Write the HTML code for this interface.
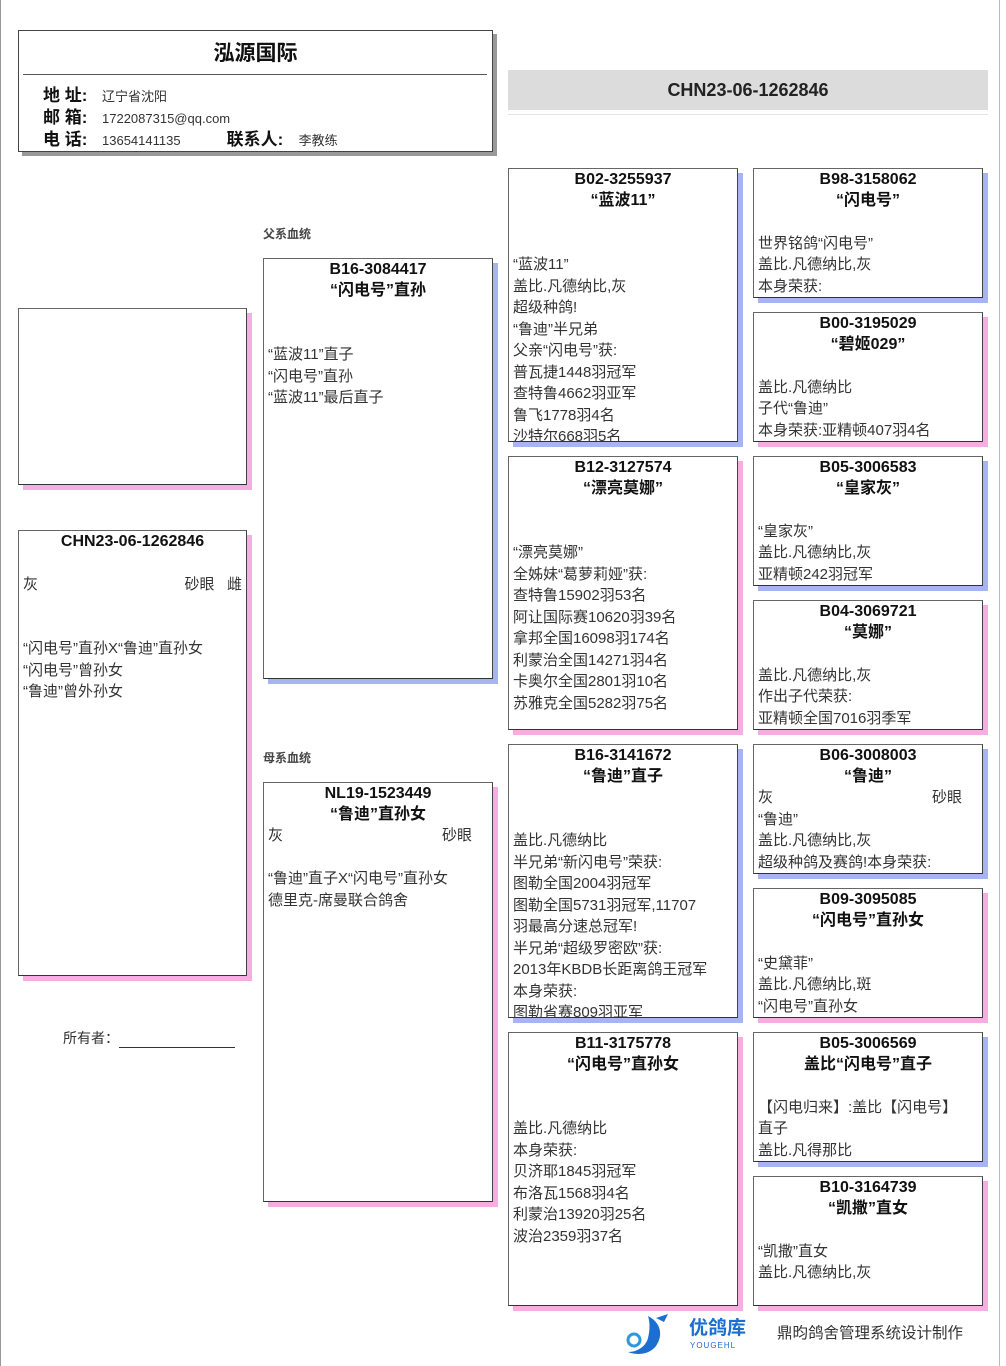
<!DOCTYPE html>
<html><head><meta charset="utf-8"><style>
*{margin:0;padding:0;box-sizing:border-box}
body{width:1006px;height:1366px;background:#fff;position:relative;overflow:hidden;font-family:"Liberation Sans","Noto Sans CJK SC",sans-serif;color:#333}
.b{position:absolute;background:#fff;border:1px solid #666;border-right-color:#444;border-bottom-color:#333;font-size:15px;line-height:21.5px;padding:0 4px 0 4px;overflow:hidden}
.m{box-shadow:5px 5px 0 #a6b4f2}
.f{box-shadow:5px 5px 0 #f4aee2}
.t{text-align:center;font-weight:bold;color:#111;font-size:16px;line-height:21px}
.r{display:flex;justify-content:space-between}
.a{position:absolute}
.lbl{font-weight:bold;font-size:17px;color:#111;display:inline-block;width:59px}
</style></head><body>
<div class="a" style="left:0;top:0;width:1px;height:1366px;background:#999"></div>
<div class="a" style="left:999px;top:0;width:1px;height:1366px;background:#bbb"></div>

<div class="a" style="left:18px;top:30px;width:475px;height:122px;border:1px solid #444;box-shadow:4px 4px 0 #999;background:#fff">
 <div style="text-align:center;font-weight:bold;font-size:21px;color:#111;margin-top:6px">泓源国际</div>
 <div class="a" style="left:4px;top:43px;width:464px;height:1px;background:#555"></div>
 <div class="a" style="left:24px;top:54px;line-height:21px;font-size:13px">
  <div><span class="lbl">地 址:</span>辽宁省沈阳</div>
  <div><span class="lbl">邮 箱:</span>1722087315@qq.com</div>
  <div><span class="lbl">电 话:</span>13654141135<span class="lbl" style="margin-left:46px;width:72px">联系人:</span>李教练</div>
 </div>
</div>

<div class="a" style="left:508px;top:70px;width:480px;height:40px;background:#dcdcdc;text-align:center;font-weight:bold;font-size:18px;line-height:40px;color:#222">CHN23-06-1262846</div>
<div class="a" style="left:508px;top:114px;width:480px;height:1px;background:#e4e4e4"></div>

<div class="b f" style="left:18px;top:308px;width:229px;height:177px"></div>
<div class="b f" style="left:18px;top:530px;width:229px;height:446px;padding-top:0">
 <div class="t">CHN23-06-1262846</div><br>
 <div class="r"><span>灰</span><span>砂眼&nbsp;&nbsp;&nbsp;雌</span></div><br><br>
 “闪电号”直孙X“鲁迪”直孙女<br>“闪电号”曾孙女<br>“鲁迪”曾外孙女
</div>
<div class="a" style="left:63px;top:1028px;font-size:14px">所有者：<span style="display:inline-block;width:116px;border-bottom:1px solid #333;height:16px;vertical-align:bottom"></span></div>

<div class="a" style="left:263px;top:225px;font-size:12px;font-weight:bold;color:#444">父系血统</div>
<div class="b m" style="left:263px;top:258px;width:230px;height:421px">
 <div class="t">B16-3084417</div><div class="t">“闪电号”直孙</div><br><br>
 “蓝波11”直子<br>“闪电号”直孙<br>“蓝波11”最后直子
</div>
<div class="a" style="left:263px;top:749px;font-size:12px;font-weight:bold;color:#444">母系血统</div>
<div class="b f" style="left:263px;top:782px;width:230px;height:420px">
 <div class="t">NL19-1523449</div><div class="t">“鲁迪”直孙女</div>
 <div class="r" style="padding-right:16px"><span>灰</span><span>砂眼</span></div><br>
 “鲁迪”直子X“闪电号”直孙女<br>德里克-席曼联合鸽舍
</div>

<div class="b m" style="left:508px;top:168px;width:230px;height:274px">
 <div class="t">B02-3255937</div><div class="t">“蓝波11”</div><br><br>
 “蓝波11”<br>盖比.凡德纳比,灰<br>超级种鸽!<br>“鲁迪”半兄弟<br>父亲“闪电号”获:<br>普瓦捷1448羽冠军<br>查特鲁4662羽亚军<br>鲁飞1778羽4名<br>沙特尔668羽5名
</div>
<div class="b f" style="left:508px;top:456px;width:230px;height:274px">
 <div class="t">B12-3127574</div><div class="t">“漂亮莫娜”</div><br><br>
 “漂亮莫娜”<br>全姊妹“葛萝莉娅”获:<br>查特鲁15902羽53名<br>阿让国际赛10620羽39名<br>拿邦全国16098羽174名<br>利蒙治全国14271羽4名<br>卡奥尔全国2801羽10名<br>苏雅克全国5282羽75名
</div>
<div class="b m" style="left:508px;top:744px;width:230px;height:274px">
 <div class="t">B16-3141672</div><div class="t">“鲁迪”直子</div><br><br>
 盖比.凡德纳比<br>半兄弟“新闪电号”荣获:<br>图勒全国2004羽冠军<br>图勒全国5731羽冠军,11707<br>羽最高分速总冠军!<br>半兄弟“超级罗密欧”获:<br>2013年KBDB长距离鸽王冠军<br>本身荣获:<br>图勒省赛809羽亚军
</div>
<div class="b f" style="left:508px;top:1032px;width:230px;height:274px">
 <div class="t">B11-3175778</div><div class="t">“闪电号”直孙女</div><br><br>
 盖比.凡德纳比<br>本身荣获:<br>贝济耶1845羽冠军<br>布洛瓦1568羽4名<br>利蒙治13920羽25名<br>波治2359羽37名
</div>

<div class="b m" style="left:753px;top:168px;width:230px;height:130px">
 <div class="t">B98-3158062</div><div class="t">“闪电号”</div><br>
 世界铭鸽“闪电号”<br>盖比.凡德纳比,灰<br>本身荣获:
</div>
<div class="b f" style="left:753px;top:312px;width:230px;height:130px">
 <div class="t">B00-3195029</div><div class="t">“碧姬029”</div><br>
 盖比.凡德纳比<br>子代“鲁迪”<br>本身荣获:亚精顿407羽4名
</div>
<div class="b m" style="left:753px;top:456px;width:230px;height:130px">
 <div class="t">B05-3006583</div><div class="t">“皇家灰”</div><br>
 “皇家灰”<br>盖比.凡德纳比,灰<br>亚精顿242羽冠军
</div>
<div class="b f" style="left:753px;top:600px;width:230px;height:130px">
 <div class="t">B04-3069721</div><div class="t">“莫娜”</div><br>
 盖比.凡德纳比,灰<br>作出子代荣获:<br>亚精顿全国7016羽季军
</div>
<div class="b m" style="left:753px;top:744px;width:230px;height:130px">
 <div class="t">B06-3008003</div><div class="t">“鲁迪”</div>
 <div class="r" style="padding-right:16px"><span>灰</span><span>砂眼</span></div>
 “鲁迪”<br>盖比.凡德纳比,灰<br>超级种鸽及赛鸽!本身荣获:
</div>
<div class="b f" style="left:753px;top:888px;width:230px;height:130px">
 <div class="t">B09-3095085</div><div class="t">“闪电号”直孙女</div><br>
 “史黛菲”<br>盖比.凡德纳比,斑<br>“闪电号”直孙女
</div>
<div class="b m" style="left:753px;top:1032px;width:230px;height:130px">
 <div class="t">B05-3006569</div><div class="t">盖比“闪电号”直子</div><br>
 【闪电归来】:盖比【闪电号】<br>直子<br>盖比.凡得那比
</div>
<div class="b f" style="left:753px;top:1176px;width:230px;height:130px">
 <div class="t">B10-3164739</div><div class="t">“凯撒”直女</div><br>
 “凯撒”直女<br>盖比.凡德纳比,灰
</div>

<svg class="a" style="left:620px;top:1312px" width="66" height="44" viewBox="0 0 66 44">
 <path d="M28 4 C40 10 44 22 36 34 C30 42 18 44 8 40 C18 40 26 34 28 26 C30 18 30 10 28 4Z" fill="#1a6fd0"/>
 <path d="M36 6 L48 2 L44 10Z" fill="#1a6fd0"/>
 <circle cx="14" cy="28" r="6" fill="none" stroke="#2a9ae0" stroke-width="3"/>
</svg>
<div class="a" style="left:689px;top:1318px;color:#1a6fd0;font-weight:bold;font-size:19px;line-height:22px">优鸽库</div>
<div class="a" style="left:690px;top:1341px;color:#1a6fd0;font-size:8px;letter-spacing:1px">YOUGEHL</div>
<div class="a" style="left:777px;top:1321px;font-size:15.5px;color:#333">鼎昀鸽舍管理系统设计制作</div>
</body></html>
